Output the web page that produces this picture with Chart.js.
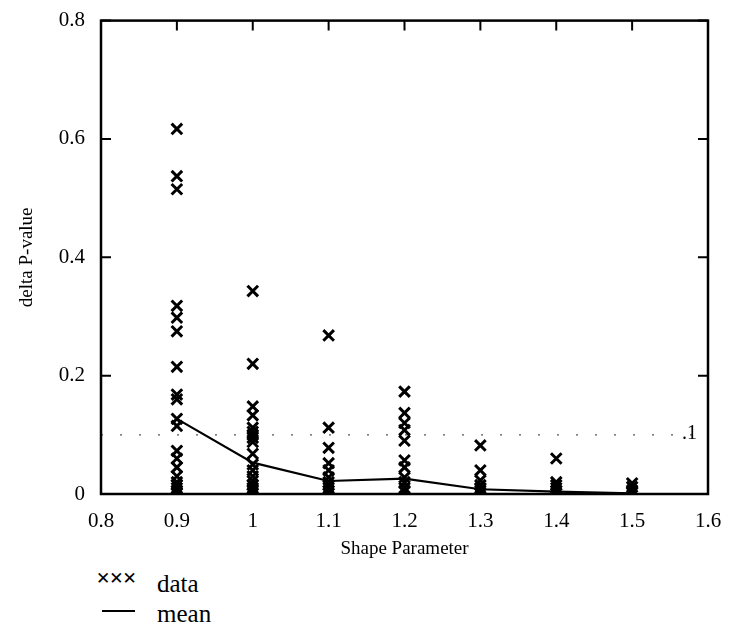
<!DOCTYPE html>
<html>
<head>
<meta charset="utf-8">
<script src="https://cdn.jsdelivr.net/npm/chart.js@4/dist/chart.umd.min.js"></script>
<style>
  body { margin:0; background:#fff; }
  #wrap { position:relative; width:730px; height:635px; }
  #chart { position:absolute; left:0; top:0; }
  .lbl { position:absolute; color:#000; font-family:'Times New Roman'; white-space:nowrap; }
  .xs { position:absolute; left:96px; top:570px; color:#000; font-family:'DejaVu Sans', sans-serif; font-size:17px; font-weight:bold; letter-spacing:-1px; line-height:1; }
</style>
</head>
<body>
<div id="wrap">
  <canvas id="chart" width="730" height="565"></canvas>
  <div class="lbl" style="left:682px; top:421px; font-size:20px;">.1</div>
  <div class="xs">&#x2715;&#x2715;&#x2715;</div>
  <div class="lbl" style="left:157px; top:570px; font-size:25px;">data</div>
  <div class="lbl" style="left:157px; top:600px; font-size:25px;">mean</div>
  <div style="position:absolute; left:102px; top:610px; width:33px; border-top:2px solid #000;"></div>
</div>
<script>
// values
const shapes = [0.9, 1.0, 1.1, 1.2, 1.3, 1.4, 1.5];
const data09 = [0.617, 0.537, 0.515, 0.318, 0.298, 0.275, 0.215, 0.168, 0.16, 0.127, 0.115, 0.073, 0.06, 0.045, 0.03, 0.02, 0.015, 0.01, 0.005, 0.002];
const data10 = [0.343, 0.22, 0.148, 0.133, 0.112, 0.105, 0.1, 0.095, 0.088, 0.068, 0.05, 0.04, 0.03, 0.022, 0.015, 0.01, 0.005, 0.001];
const data11 = [0.268, 0.112, 0.078, 0.052, 0.04, 0.028, 0.02, 0.015, 0.01, 0.005, 0.001];
const data12 = [0.173, 0.137, 0.12, 0.108, 0.09, 0.057, 0.045, 0.028, 0.02, 0.01, 0.004];
const data13 = [0.082, 0.04, 0.023, 0.015, 0.01, 0.005, 0.001];
const data14 = [0.06, 0.02, 0.015, 0.01, 0.005, 0.001];
const data15 = [0.018, 0.012, 0.006, 0.002];
const meanVals = [0.127, 0.053, 0.022, 0.026, 0.008, 0.004, 0.001];
const refLevel = 0.1;
const xTicks = [0.8, 0.9, 1, 1.1, 1.2, 1.3, 1.4, 1.5, 1.6];
const yTicks = [0, 0.2, 0.4, 0.6, 0.8];

const serif = "'Liberation Serif'";

const groups = [data09, data10, data11, data12, data13, data14, data15];
const points = [];
groups.forEach((g, i) => g.forEach(v => points.push({x: shapes[i], y: v})));

// box frame + inward ticks
const frame = {
  id: 'frame',
  afterDatasetsDraw(chart){
    const {ctx, chartArea: a, scales} = chart;
    ctx.save();
    ctx.strokeStyle = '#000';
    ctx.lineWidth = 2.5;
    ctx.strokeRect(a.left, a.top, a.right - a.left, a.bottom - a.top);
    ctx.lineWidth = 2;
    const len = 10;
    ctx.beginPath();
    yTicks.forEach(v => {
      const y = scales.y.getPixelForValue(v);
      ctx.moveTo(a.left, y); ctx.lineTo(a.left + len, y);
      ctx.moveTo(a.right, y); ctx.lineTo(a.right - len, y);
    });
    xTicks.forEach(v => {
      const x = scales.x.getPixelForValue(v);
      ctx.moveTo(x, a.bottom); ctx.lineTo(x, a.bottom - len);
      ctx.moveTo(x, a.top); ctx.lineTo(x, a.top + len);
    });
    ctx.stroke();
    ctx.restore();
  }
};

new Chart(document.getElementById('chart'), {
  type: 'scatter',
  data: {
    datasets: [
      {
        label: 'data',
        data: points,
        pointStyle: 'crossRot',
        pointRadius: 7.5,
        pointBorderWidth: 3,
        borderColor: '#000',
        backgroundColor: '#000'
      },
      {
        label: 'mean',
        type: 'line',
        data: shapes.map((s, i) => ({x: s, y: meanVals[i]})),
        borderColor: '#000',
        borderWidth: 2.2,
        pointRadius: 0,
        tension: 0
      },
      {
        label: 'ref',
        type: 'line',
        data: [{x: 0.8, y: refLevel}, {x: 1.6, y: refLevel}],
        borderColor: '#555',
        borderWidth: 1.2,
        borderDash: [2, 17],
        pointRadius: 0
      }
    ]
  },
  plugins: [frame],
  options: {
    responsive: false,
    animation: false,
    layout: { padding: { left: 12, top: 14, right: 22, bottom: 0 } },
    plugins: { legend: { display: false }, tooltip: { enabled: false } },
    scales: {
      x: {
        type: 'linear', min: 0.8, max: 1.6,
        afterBuildTicks: s => { s.ticks = xTicks.map(v => ({value: v})); },
        afterFit: s => { s.height = 71; },
        grid: { display: false },
        border: { display: false },
        ticks: {
          color: '#000', padding: 7,
          font: { family: serif, size: 21 },
          callback: v => String(Math.round(v * 10) / 10)
        },
        title: {
          display: true, text: 'Shape Parameter', color: '#000',
          font: { family: serif, size: 19 },
          padding: { top: 2, bottom: 5 }
        }
      },
      y: {
        type: 'linear', min: 0, max: 0.8,
        afterBuildTicks: s => { s.ticks = yTicks.map(v => ({value: v})); },
        afterFit: s => { s.width = 89; },
        grid: { display: false },
        border: { display: false },
        ticks: {
          color: '#000', padding: 8,
          font: { family: serif, size: 21 },
          callback: v => v === 0 ? '0' : String(Math.round(v * 10) / 10)
        },
        title: {
          display: true, text: 'delta P-value', color: '#000',
          font: { family: serif, size: 19 },
          padding: 4
        }
      }
    }
  }
});
</script>
</body>
</html>
